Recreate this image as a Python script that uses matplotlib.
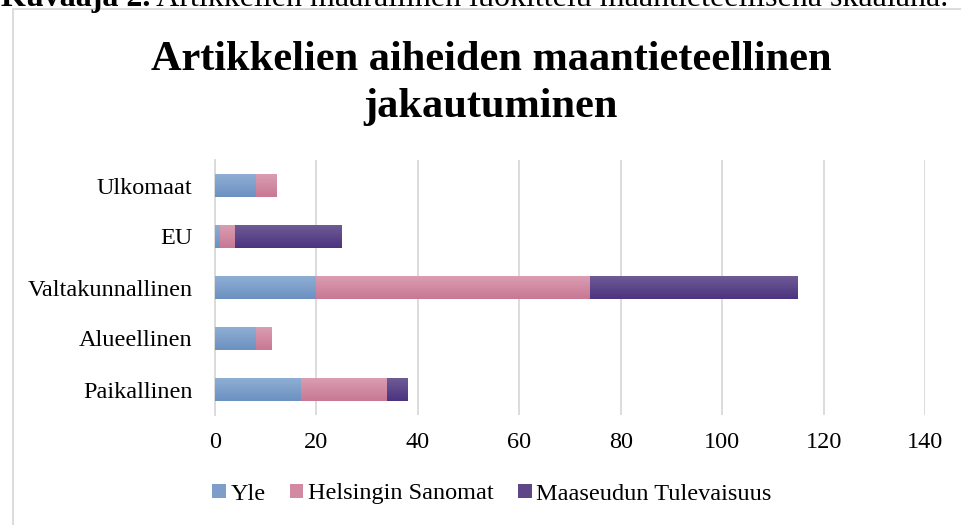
"""Artikkelien aiheiden maantieteellinen jakautuminen - pinottu vaakapylväskaavio."""

import matplotlib

matplotlib.use("Agg")
import matplotlib.pyplot as plt
import matplotlib.patheffects as pe
from matplotlib.colors import LinearSegmentedColormap
from matplotlib.patches import Rectangle
import numpy as np


CATEGORIES = ["Paikallinen", "Alueellinen", "Valtakunnallinen", "EU", "Ulkomaat"]
SERIES = ["Yle", "Helsingin Sanomat", "Maaseudun Tulevaisuus"]
YLE = [17, 8, 20, 1, 8]
HS = [17, 3, 54, 3, 4]
MT = [4, 0, 41, 21, 0]
X_TICKS = [0, 20, 40, 60, 80, 100, 120, 140]

COLORS = ["#7C9EC9", "#D18AA2", "#5E4789"]
# liukuvärit: (alareuna, yläreuna)
GRADIENTS = [("#6C91C1", "#8EAED3"), ("#C87894", "#DA9DB1"), ("#4C3380", "#6E5B95")]
TITLE_LINES = ["Artikkelien aiheiden maantieteellinen", "jakautuminen"]
CAPTION_BOLD = "Kuvaaja 2."
CAPTION = " Artikkelien määrällinen luokittelu maantieteellisenä skaalana."

W, H = 962, 525
plt.rcParams["font.family"] = ["Liberation Serif", "DejaVu Serif"]


def fx(px):
    return px / W


def fy(py):
    return 1 - py / H


fig = plt.figure(figsize=(W / 100, H / 100), dpi=100)

# kaavion kehys, leikkautuu oikealta ja alhaalta
fig.patches.append(
    Rectangle((fx(13), fy(560)), fx(1020) - fx(13), fy(9) - fy(560),
              transform=fig.transFigure, fill=False, edgecolor="#D9D9D9", lw=1.3)
)

# yläreunasta leikkautunut kuvateksti
t1 = fig.text(fx(1), fy(6), CAPTION_BOLD, fontsize=23, fontweight="bold",
              ha="left", va="baseline")
fig.canvas.draw()
bb = t1.get_window_extent()
fig.text(bb.x1 / W, fy(6), CAPTION, fontsize=23, ha="left", va="baseline")

# otsikon rivit (perusviivat)
for line, base in zip(TITLE_LINES, [70, 117]):
    fig.text(fx(491), fy(base), line, fontsize=30.5, fontweight="bold",
             ha="center", va="baseline")

ax = fig.add_axes([fx(215), fy(415), fx(925) - fx(215), fy(160) - fy(415)])

y = np.arange(len(CATEGORIES))
left = np.zeros(len(CATEGORIES))
shadow = [pe.SimplePatchShadow(offset=(2, -3), shadow_rgbFace="black", alpha=0.3),
          pe.Normal()]
grad = np.linspace(0, 1, 64).reshape(-1, 1)
for name, vals, color, (c_lo, c_hi) in zip(SERIES, [YLE, HS, MT], COLORS, GRADIENTS):
    vals = np.array(vals, dtype=float)
    bars = ax.barh(y, vals, left=left, height=0.44, color=color, label=name,
                   path_effects=shadow, zorder=3)
    cmap = LinearSegmentedColormap.from_list(name, [c_lo, c_hi])
    for rect in bars:
        x0, y0 = rect.get_xy()
        w, h = rect.get_width(), rect.get_height()
        if w <= 0:
            continue
        im = ax.imshow(grad, extent=[x0, x0 + w, y0, y0 + h], origin="lower",
                       cmap=cmap, aspect="auto", zorder=4, interpolation="bilinear")
        im.set_clip_path(rect)
    left += vals

ax.set_xlim(0, 140)
ax.set_ylim(-0.5, len(CATEGORIES) - 0.5)
ax.set_xticks(X_TICKS)
ax.set_yticks(y)
ax.set_yticklabels(CATEGORIES)
ax.tick_params(axis="both", length=0, labelsize=17.5)
ax.tick_params(axis="x", pad=12)
ax.tick_params(axis="y", pad=16)
ax.grid(axis="x", color="#D9D9D9", lw=1.3, zorder=0)
for side in ("top", "right", "bottom"):
    ax.spines[side].set_visible(False)
ax.spines["left"].set_color("#D9D9D9")
ax.spines["left"].set_linewidth(1.3)

handles, labels = ax.get_legend_handles_labels()
for h in handles:
    for p in h.patches:
        p.set_path_effects([])
fig.legend(handles, labels, loc="center", bbox_to_anchor=(fx(492), fy(494)),
           ncol=3, frameon=False, fontsize=17.5, handlelength=0.55,
           handleheight=0.55, handletextpad=0.2, columnspacing=1.0)

fig.savefig("out.png", dpi=100)
